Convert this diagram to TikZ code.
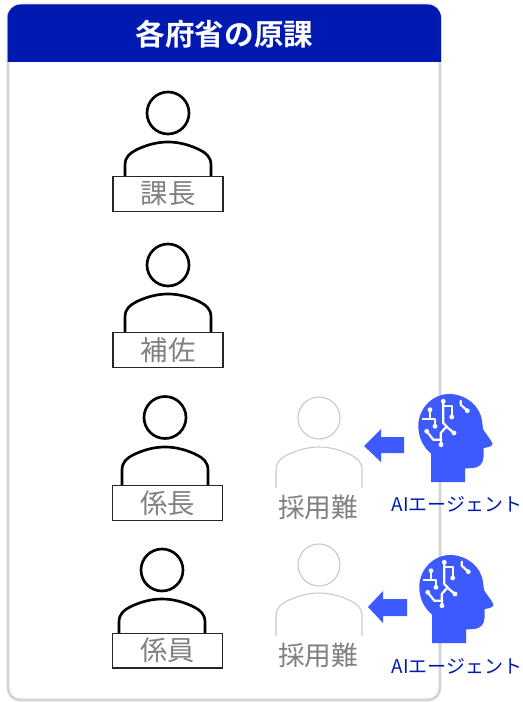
\documentclass[tikz,border=0pt]{standalone}
\usepackage{fontspec}
\newfontfamily\cjk{Noto Sans CJK JP}[BoldFont={Noto Sans CJK JP Bold}]
\definecolor{hdr}{HTML}{0019B0}
\definecolor{agent}{HTML}{3D5AFE}
\definecolor{frameg}{HTML}{D4D4D4}
\definecolor{lightg}{HTML}{C8C8C8}
\definecolor{txtg}{HTML}{808080}
\tikzset{
  x=0.75pt,y=-0.75pt,
  role/.style={draw=black!85,line width=1pt,fill=white,minimum width=82.5pt,minimum height=26pt,inner sep=0pt,text=txtg,font=\cjk\fontsize{20.5}{24}\selectfont},
  lack/.style={text=txtg,inner sep=0pt,font=\cjk\fontsize{20}{24}\selectfont},
  aitext/.style={text=hdr,inner sep=0pt,font=\cjk\fontsize{14.2}{17}\selectfont},
  personline/.style={black,line width=2pt},
  graypersonline/.style={lightg,line width=0.8pt},
  circuit/.style={white,line width=1.7pt,line cap=round,line join=round},
}
\newcommand{\personshape}[5]{% cx, head cy, body top, body bottom, style
  \draw[#5] (#1,#2) circle[radius=21];
  \draw[#5] (#1-43,#4) -- (#1-43,#3+23) .. controls (#1-43,#3+15) and (#1-38,#3+11) .. (#1-32,#3+8)
     .. controls (#1-22,#3+3) and (#1-11,#3) .. (#1,#3)
     .. controls (#1+11,#3) and (#1+22,#3+3) .. (#1+32,#3+8)
     .. controls (#1+38,#3+11) and (#1+43,#3+15) .. (#1+43,#3+23) -- (#1+43,#4);
}
\newcommand{\agenticon}[2]{%
\begin{scope}[shift={(#1,#2)}]
  \fill[agent] (31,97) -- (31,68.5) .. controls (23,62) and (18.3,52) .. (18.3,41)
    .. controls (18.3,23) and (33,9) .. (49,9)
    .. controls (65,9) and (80,20) .. (82,36) -- (83,44)
    .. controls (85,48) and (90,53) .. (92.5,58.5) .. controls (93,61) and (88,62.5) .. (83.5,63)
    -- (83.5,72) .. controls (83.5,78) and (79,83) .. (73,83) -- (65,83.5) -- (65,97) -- cycle;
  \draw[circuit] (22.7,33.7) -- (35,33.7) -- (35,41.3);
  \draw[circuit] (30,24.7) -- (30,33.7);
  \draw[circuit] (43.3,16.3) -- (43.3,38) -- (48,43) -- (54,48);
  \draw[circuit] (43.3,21.3) -- (51.7,21.3) -- (51.7,32);
  \draw[circuit] (46.5,41.5) -- (40.7,48) -- (41,59.7);
  \draw[circuit] (26.7,46.3) -- (33.3,54.7) -- (41,54.7);
  \draw[circuit] (60.7,15.7) -- (60.7,19.7) -- (67.3,25.7);
  \foreach \p in {(30,24.7),(35,41.3),(43.3,16.3),(51.7,32),(54,48),(41,59.7),(26.7,46.3),(67.3,25.7)}
    \fill[white] \p circle[radius=2.4];
\end{scope}}
\begin{document}
\begin{tikzpicture}
\useasboundingbox (0,0) rectangle (522,702);
\fill[white] (0,0) rectangle (522,702);
% frame
\draw[frameg,line width=2pt,fill=white,rounded corners=9pt] (8,5) rectangle (440,700);
\fill[hdr,rounded corners=10pt] (7.5,62) -- (7.5,4.5) -- (441,4.5) [sharp corners] -- (441,62) -- cycle;
\node[text=white,inner sep=0pt,font=\cjk\bfseries\fontsize{22.2}{26}\selectfont] (title) at (224.5,34) {各府省の原課};
% staff
\personshape{168}{113}{142}{177}{personline}
\node[role] (kacho) at (168,194) {課長};
\personshape{168}{265}{294}{333}{personline}
\node[role] (hosa) at (168,350) {補佐};
\personshape{165}{417.5}{447}{486}{personline}
\node[role] (kakaricho) at (167.5,503) {係長};
\personshape{162}{570}{599}{633}{personline}
\node[role] (kakariin) at (167.5,650.5) {係員};
% vacant
\personshape{319}{418}{447}{488}{graypersonline}
\node[lack] (lack1) at (318,507) {採用難};
\personshape{319}{565}{593}{636}{graypersonline}
\node[lack] (lack2) at (318,655) {採用難};
% arrows
\fill[agent] (364,446) -- (381,429) -- (381,437) -- (404,437) -- (404,453) -- (381,453) -- (381,462) -- cycle;
\fill[agent] (368,607) -- (383,591) -- (383,599) -- (407,599) -- (407,616) -- (383,616) -- (383,623) -- cycle;
% agents
\agenticon{400}{385}
\agenticon{401}{546}
\node[aitext] (ai1) at (457,504) {AIエージェント};
\node[aitext] (ai2) at (457,666) {AIエージェント};
\end{tikzpicture}
\end{document}
